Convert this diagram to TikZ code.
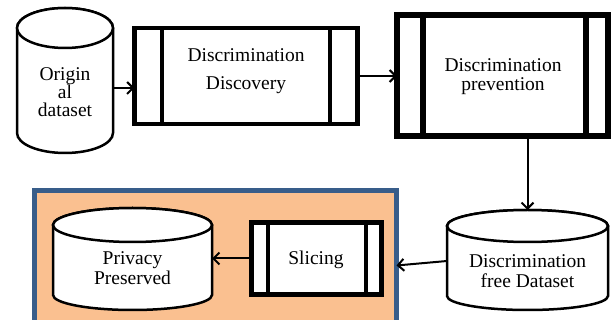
\documentclass[tikz,border=0pt]{standalone}
\usepackage{fontspec}
\setmainfont{Liberation Serif}
\usetikzlibrary{arrows.meta}
\definecolor{frameblue}{RGB}{56,93,138}
\definecolor{framefill}{RGB}{250,192,144}
\begin{document}
\begin{tikzpicture}[x=1pt,y=-1pt,
  txt/.style={font=\fontsize{19.5}{19}\selectfont, align=center, inner sep=0pt, outer sep=0pt},
  proc/.style={draw, fill=white, inner sep=0pt, outer sep=0pt},
  cyl/.style={draw, fill=white, line width=2.5pt},
  arr/.style={line width=2pt, -{Straight Barb[length=6pt,width=12pt]}}]
\useasboundingbox (0,0) rectangle (613,320);
\clip (0,0) rectangle (613,320);

% background frame
\node[draw=frameblue, fill=framefill, line width=5pt, minimum width=362pt,
      minimum height=150pt, inner sep=0pt, outer sep=0pt] (frame) at (215.5,265.5) {};

% Original dataset cylinder
\filldraw[cyl] (17,28) -- (17,133) arc[start angle=180,end angle=0,x radius=48,y radius=20]
  -- (113,28) arc[start angle=0,end angle=-180,x radius=48,y radius=20] -- cycle;
\draw[cyl] (65,28) ellipse[x radius=48, y radius=20];
\node[txt, minimum width=96pt, font=\fontsize{19.5}{18}\selectfont] (orig) at (65,92) {Origin\\al\\dataset};

% Discrimination Discovery
\node[proc, line width=4.5pt, minimum width=223pt, minimum height=96pt] (disc) at (246,76) {};
\draw[line width=4.5pt] ([xshift=27.5pt]disc.north west) -- ([xshift=27.5pt]disc.south west);
\draw[line width=4.5pt] ([xshift=-27.5pt]disc.north east) -- ([xshift=-27.5pt]disc.south east);
\node[txt] (discT) at (246,71) {Discrimination\\[9pt]Discovery};

% Discrimination prevention
\node[proc, line width=6pt, minimum width=211pt, minimum height=120.5pt] (prev) at (502.5,75.75) {};
\draw[line width=6pt] ([xshift=25.5pt]prev.north west) -- ([xshift=25.5pt]prev.south west);
\draw[line width=6pt] ([xshift=-22pt]prev.north east) -- ([xshift=-22pt]prev.south east);
\node[txt] (prevT) at (503,77) {Discrimination\\prevention};

% Discrimination free Dataset cylinder
\filldraw[cyl] (447,226) -- (447,296) arc[start angle=180,end angle=0,x radius=80.5,y radius=14]
  -- (608,226) arc[start angle=0,end angle=-180,x radius=80.5,y radius=16] -- cycle;
\draw[cyl] (527.5,226) ellipse[x radius=80.5, y radius=16];
\node[txt, minimum width=161pt, font=\fontsize{19.5}{20}\selectfont] (dfree) at (527.5,271) {Discrimination\\free Dataset};
\coordinate (dfreetop) at (527.5,210);

% Slicing
\node[proc, line width=5pt, minimum width=130pt, minimum height=72pt] (slic) at (316,258.5) {};
\draw[line width=4pt] ([xshift=16.5pt]slic.north west) -- ([xshift=16.5pt]slic.south west);
\draw[line width=4pt] ([xshift=-15.5pt]slic.north east) -- ([xshift=-15.5pt]slic.south east);
\node[txt] (slicT) at (316,260) {Slicing};

% Privacy Preserved cylinder
\filldraw[cyl] (53,225) -- (53,295) arc[start angle=180,end angle=0,x radius=79.5,y radius=15]
  -- (212,225) arc[start angle=0,end angle=-180,x radius=79.5,y radius=17] -- cycle;
\draw[cyl] (132.5,225) ellipse[x radius=79.5, y radius=17];
\node[txt, minimum width=159pt, font=\fontsize{19.5}{20}\selectfont] (priv) at (132.5,268) {Privacy\\Preserved};

% connectors
\coordinate (a1) at ([yshift=4pt]orig.east);
\draw[arr] (a1) -- (a1 -| disc.west);
\draw[arr] (disc.east) -- (disc.east -| prev.west);
\draw[arr] (prev.south -| dfreetop) -- (dfreetop);
\coordinate (a4) at ([yshift=10pt]dfree.west);
\draw[arr] (a4) -- (frame.east);
\draw[arr] (slic.west) -- (slic.west -| priv.east);
\end{tikzpicture}
\end{document}
